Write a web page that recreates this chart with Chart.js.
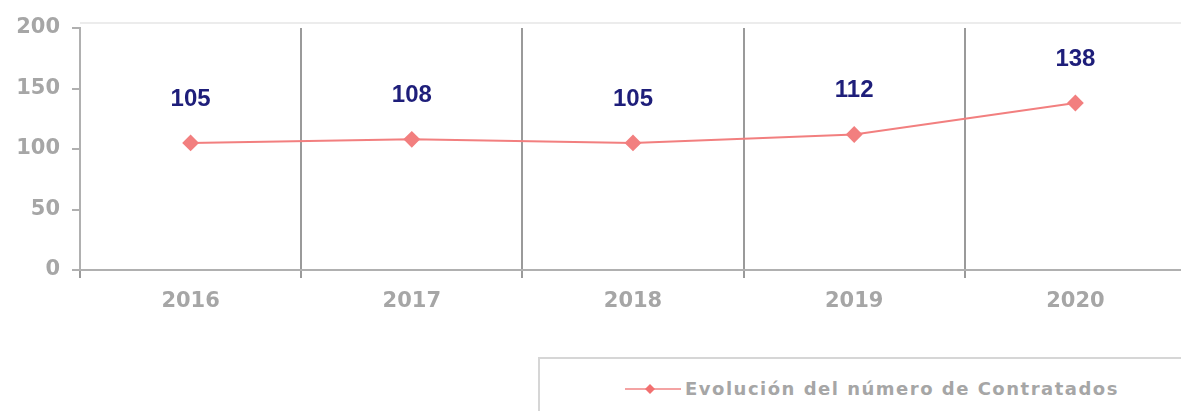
<!DOCTYPE html>
<html>
<head>
<meta charset="utf-8">
<script src="https://cdn.jsdelivr.net/npm/chart.js@4"></script>
<style>
  body { margin: 0; background: #fff; overflow: hidden; width: 1181px; height: 411px; position: relative; }
  #wrap { position: absolute; left: 0; top: 0; width: 1195px; height: 340px; }
  #legend { position: absolute; left: 538px; top: 357px; width: 700px; height: 80px; border: 2px solid #d6d6d6; box-sizing: border-box; }
  #legend .item { position: absolute; left: 85px; top: 19px; display: flex; align-items: center; font-family: "DejaVu Sans", sans-serif; font-weight: bold; font-size: 18px; letter-spacing: 1.5px; color: #a6a6a6; white-space: nowrap; }
  #legend svg { margin-right: 4px; }
</style>
</head>
<body>
<div id="wrap"><canvas id="chart"></canvas></div>
<div id="legend">
  <div class="item">
    <svg width="56" height="14"><line x1="0" y1="7" x2="56" y2="7" stroke="#f4a3a3" stroke-width="2"/><polygon points="25,2 30,7 25,12 20,7" fill="#f27070"/></svg>
    <span id="legend-text"></span>
  </div>
</div>
<script>
// Data
const years = ['2016', '2017', '2018', '2019', '2020'];
const contratados = [105, 108, 105, 112, 138];
const yTicks = [0, 50, 100, 150, 200];
const seriesName = 'Evolución del número de Contratados';

document.getElementById('legend-text').innerText = seriesName;

// Value labels above each point
const valueLabels = {
  id: 'valueLabels',
  afterDatasetsDraw(chart) {
    const ctx = chart.ctx;
    const meta = chart.getDatasetMeta(0);
    ctx.save();
    ctx.font = 'bold 24px "Liberation Sans", Arial, sans-serif';
    ctx.fillStyle = '#1e1e7a';
    ctx.textAlign = 'center';
    ctx.textBaseline = 'middle';
    meta.data.forEach((pt, i) => {
      ctx.fillText(String(contratados[i]), pt.x, pt.y - 44);
    });
    ctx.restore();
  }
};

// Light frame line just above the plot
const topFrame = {
  id: 'topFrame',
  beforeDatasetsDraw(chart) {
    const { ctx, chartArea } = chart;
    ctx.save();
    ctx.strokeStyle = '#ececec';
    ctx.lineWidth = 2;
    ctx.beginPath();
    ctx.moveTo(chartArea.left, chartArea.top - 5);
    ctx.lineTo(chartArea.right, chartArea.top - 5);
    ctx.stroke();
    ctx.restore();
  }
};

const tickFont = { family: '"DejaVu Sans", sans-serif', size: 21, weight: 'bold' };

const ctx = document.getElementById('chart').getContext('2d');
new Chart(ctx, {
  type: 'line',
  data: {
    labels: years,
    datasets: [{
      label: seriesName,
      data: contratados,
      borderColor: '#f27f7f',
      backgroundColor: '#f27f7f',
      borderWidth: 2,
      pointStyle: 'rectRot',
      pointRadius: 7,
      pointHoverRadius: 7,
      tension: 0
    }]
  },
  options: {
    responsive: true,
    maintainAspectRatio: false,
    animation: false,
    layout: { padding: { top: 28, left: 0, right: 0, bottom: 0 } },
    plugins: {
      legend: { display: false },
      tooltip: { enabled: false }
    },
    scales: {
      x: {
        offset: true,
        afterFit: (scale) => { scale.height = 70; },
        grid: {
          offset: true,
          color: '#9a9a9a',
          lineWidth: 2,
          tickLength: 8,
          drawTicks: true
        },
        border: { color: '#b0b0b0', width: 2 },
        ticks: {
          padding: 11,
          color: '#a6a6a6',
          font: tickFont
        }
      },
      y: {
        min: 0,
        max: 200,
        afterFit: (scale) => { scale.width = 80; },
        afterBuildTicks: (scale) => { scale.ticks = yTicks.map(v => ({ value: v })); },
        grid: {
          drawOnChartArea: false,
          tickColor: '#b0b0b0',
          lineWidth: 2,
          tickLength: 8
        },
        border: { color: '#b0b0b0', width: 2 },
        ticks: {
          padding: 12,
          color: '#a6a6a6',
          font: tickFont
        }
      }
    }
  },
  plugins: [valueLabels, topFrame]
});
</script>
</body>
</html>
